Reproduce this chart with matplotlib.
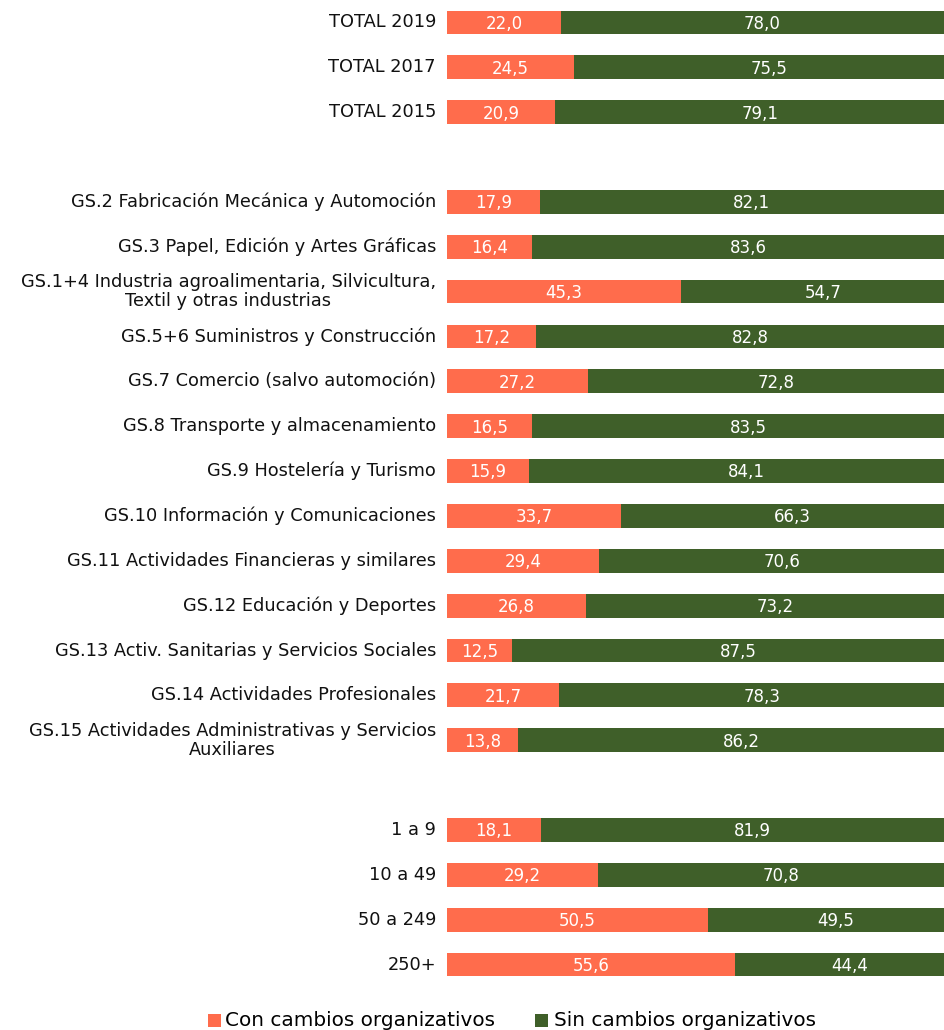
import matplotlib
matplotlib.use('Agg')
import matplotlib.pyplot as plt
from matplotlib.patches import Rectangle

# Categories (None = empty gap row)
categories = [
    "TOTAL 2019", "TOTAL 2017", "TOTAL 2015", None,
    "GS.2 Fabricación Mecánica y Automoción",
    "GS.3 Papel, Edición y Artes Gráficas",
    "GS.1+4 Industria agroalimentaria, Silvicultura,\nTextil y otras industrias",
    "GS.5+6 Suministros y Construcción",
    "GS.7 Comercio (salvo automoción)",
    "GS.8 Transporte y almacenamiento",
    "GS.9 Hostelería y Turismo",
    "GS.10 Información y Comunicaciones",
    "GS.11 Actividades Financieras y similares",
    "GS.12 Educación y Deportes",
    "GS.13 Activ. Sanitarias y Servicios Sociales",
    "GS.14 Actividades Profesionales",
    "GS.15 Actividades Administrativas y Servicios\nAuxiliares",
    None,
    "1 a 9", "10 a 49", "50 a 249", "250+",
]
con_cambios = [22.0, 24.5, 20.9, None,
               17.9, 16.4, 45.3, 17.2, 27.2, 16.5, 15.9, 33.7, 29.4, 26.8, 12.5, 21.7, 13.8,
               None,
               18.1, 29.2, 50.5, 55.6]
sin_cambios = [78.0, 75.5, 79.1, None,
               82.1, 83.6, 54.7, 82.8, 72.8, 83.5, 84.1, 66.3, 70.6, 73.2, 87.5, 78.3, 86.2,
               None,
               81.9, 70.8, 49.5, 44.4]
series_names = ["Con cambios organizativos", "Sin cambios organizativos"]

c_orange = '#FF6C4C'
c_green = '#3F5F29'

W, H = 944, 1030
fig = plt.figure(figsize=(W / 100, H / 100), dpi=100)
ax = fig.add_axes([447 / W, 1 - 989 / H, 497 / W, 989 / H])
# the 100 % end of the bars runs past the right edge of the picture
ax.set_xlim(0, 96.1)
ax.set_ylim(21.545, -0.50)
ax.axis('off')

def fmt(v):
    return f"{v:.1f}".replace('.', ',')

for i, (lab, a, b) in enumerate(zip(categories, con_cambios, sin_cambios)):
    if lab is None:
        continue
    ax.barh(i, a, height=0.53, color=c_orange, left=0)
    ax.barh(i, b, height=0.53, color=c_green, left=a)
    ax.text(a / 2, i + 0.03, fmt(a), ha='center', va='center', color='white', fontsize=12)
    ax.text(a + b / 2, i + 0.03, fmt(b), ha='center', va='center', color='white', fontsize=12,
            clip_on=False)
    ax.annotate(lab, xy=(0, i), xycoords='data', xytext=(-11, 0), textcoords='offset pixels',
                ha='right', va='center', multialignment='center', fontsize=12.8,
                color='#111111', linespacing=1.1, annotation_clip=False)

# Legend
fig.patches.append(Rectangle((208 / W, 1 - 1027 / H), 13 / W, 13 / H,
                             transform=fig.transFigure, facecolor=c_orange, edgecolor='none'))
fig.text(225 / W, 1 - 1021 / H, series_names[0], ha='left', va='center', fontsize=14.4)
fig.patches.append(Rectangle((535 / W, 1 - 1027 / H), 13 / W, 13 / H,
                             transform=fig.transFigure, facecolor=c_green, edgecolor='none'))
fig.text(554 / W, 1 - 1021 / H, series_names[1], ha='left', va='center', fontsize=14.4)

fig.savefig('out.png', dpi=100, facecolor='white')
